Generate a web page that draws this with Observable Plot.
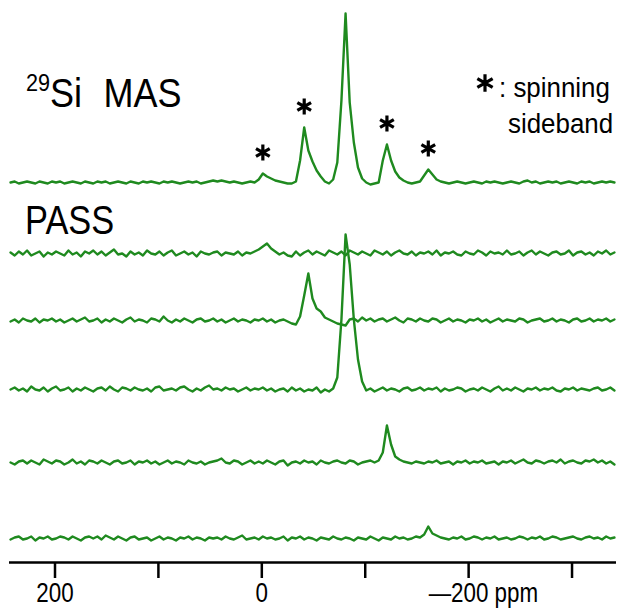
<!DOCTYPE html>
<html><head><meta charset="utf-8">
<script src="https://cdn.jsdelivr.net/npm/d3@7"></script>
<script src="https://cdn.jsdelivr.net/npm/@observablehq/plot@0.6"></script>
<style>
html,body{margin:0;padding:0;background:#fff;}
#wrap{position:relative;width:624px;height:608px;}
#wrap > svg{position:absolute;left:0;top:0;}
.lbl{font-family:"Liberation Sans",Arial,sans-serif;fill:#000;}
</style></head><body>
<div id="wrap"></div>
<script>
// chemical shift grid (ppm)
const ppm = [243,239,235,231,227,223,219,215,211,207,
203,199,195,191,187,183,179,175,171,167,
163,159,155,151,147,143,139,135,131,127,
123,119,115,111,107,103,99,95,91,87,
83,79,75,71,67,63,59,55,51,47,
43,39,35,31,27,23,19,15,11,7,
3,-1,-5,-9,-13,-17,-21,-25,-29,-33,
-37,-41,-45,-49,-53,-57,-61,-65,-69,-73,
-77,-81,-85,-89,-93,-97,-101,-105,-109,-113,
-117,-121,-125,-129,-133,-137,-141,-145,-149,-153,
-157,-161,-165,-169,-173,-177,-181,-185,-189,-193,
-197,-201,-205,-209,-213,-217,-221,-225,-229,-233,
-237,-241,-245,-249,-253,-257,-261,-265,-269,-273,
-277,-281,-285,-289,-293,-297,-301,-305,-309,-313,
-317,-321,-325,-329,-333,-337,-341];

// 29Si MAS spectrum intensity
const masSpectrum = [0,1,-1,0,1,0,-1,1,0,-1,
1,0,1,-1,0,1,0,-1,1,0,
-1,1,0,1,-1,0,1,0,-1,1,
0,-1,1,0,1,0,-1,1,0,1,
0,-1,0,1,0,1,-1,0,1,2,
1,2,1,0,1,0,-1,0,1,0,
3,9,6,4,2,1,0,-1,-1,1,
22,55,32,21,12,6,1,-1,3,20,
82,169,80,40,15,4,0,-2,-1,0,
22,38,22,11,5,2,0,-1,0,1,
7,13,8,3,1,0,-1,0,1,0,
-1,0,1,0,-1,1,0,1,0,-1,
0,1,0,-1,1,2,0,1,-1,0,
1,0,1,-1,0,1,0,-1,1,0,
1,-1,0,1,0,1,0];

// PASS sub-spectra intensities (sideband orders)
const pass1 = [1,-2,2,-1,3,-2,0,2,-3,1,
-1,2,0,-2,3,-1,1,-3,2,0,
3,-1,2,-2,1,4,-1,0,-3,2,
-1,1,-2,3,0,-1,2,-2,1,3,
-2,0,2,-1,1,-3,2,0,-1,1,
2,-2,1,0,-1,2,-2,1,0,2,
4,7,10,5,2,-1,1,-2,-3,2,
-2,1,3,-1,2,0,-2,3,1,-1,
2,-2,3,1,-1,2,0,-2,3,1,
-1,2,-2,1,3,0,-1,2,-2,1,
0,2,-1,3,-2,1,0,2,-1,-2,
2,0,-1,3,1,-2,2,0,1,-1,
3,-1,0,2,-2,1,3,-1,2,0,
-2,1,2,-1,0,3,-2,1,2,-1,
1,-2,2,0,3,-1,1];

const pass2 = [-1,1,-2,2,0,-1,2,-2,1,0,
2,-1,1,-2,0,2,-1,1,3,-1,
0,2,-2,1,-1,2,0,-2,1,3,
-1,1,0,-2,2,1,-1,4,0,-2,
1,-1,2,0,-2,1,2,-1,0,2,
-1,1,-2,0,2,-1,1,0,-2,1,
0,2,-1,1,-2,0,1,-1,-3,-4,
4,25,47,22,12,9,3,1,-1,-3,
-4,-5,1,2,-1,3,0,2,-1,1,
2,-1,1,3,0,-2,2,1,-1,2,
0,-1,2,1,-2,0,2,-1,1,0,
-2,1,0,2,-1,1,-2,0,2,-1,
1,0,-1,2,1,-2,0,1,2,-1,
0,2,-1,1,0,-2,1,2,-1,0,
2,-1,1,0,2,-1,1];

const pass3 = [0,2,-1,1,-2,3,0,-1,2,-2,
1,3,-1,0,2,-2,1,-1,2,0,
-2,1,2,-1,3,0,-2,2,1,-1,
2,0,-1,1,-2,2,3,-1,0,1,
-1,2,3,0,-2,1,-1,2,4,0,
1,-1,2,0,1,-2,0,2,-1,1,
0,2,-1,1,-2,0,1,-2,2,-1,
1,-2,0,-1,2,-3,0,-2,1,12,
70,155,125,70,30,8,-1,1,-2,0,
2,-1,1,0,-2,1,2,-1,0,2,
-1,1,0,2,-2,1,-1,0,2,1,
-2,0,1,-1,2,0,-2,1,3,-1,
1,-1,2,0,-2,1,0,2,-1,1,
0,2,-1,-2,1,0,2,-1,1,0,
-1,1,2,-1,0,2,-1];

const pass4 = [0,-2,1,2,-1,2,0,-2,3,1,
-1,2,1,-2,0,3,-1,1,-2,2,
1,-1,2,0,-2,1,2,-1,0,2,
-2,1,0,2,-1,1,-2,0,2,-1,
1,0,-2,2,0,-1,1,-2,0,1,
2,4,0,-1,2,1,-2,0,2,-1,
1,-1,2,0,-2,1,2,-3,0,1,
-1,2,0,1,-2,2,0,-1,1,2,
0,-1,2,1,-2,0,1,2,0,2,
10,37,18,6,3,1,0,-1,1,0,
-1,1,0,2,-1,0,1,-2,1,0,
2,-1,1,0,2,-1,0,1,-2,1,
0,2,-1,1,3,0,-1,2,1,-1,
1,2,0,3,-1,1,2,0,-1,2,
1,3,0,2,-1,1,-2];

const pass5 = [-1,1,2,-1,0,2,-2,1,0,2,
-1,0,2,1,-1,2,0,-2,1,2,
0,2,-1,3,1,-1,2,0,-2,1,
2,-1,0,1,-2,0,2,-1,1,0,
-2,1,0,2,-1,1,0,-2,1,0,
1,-1,2,0,-1,1,3,-1,0,1,
-1,2,0,1,-1,0,2,-2,1,0,
2,-1,1,0,-2,1,0,-1,2,0,
-1,1,0,-2,1,0,-1,2,0,-2,
1,0,-1,2,0,1,-1,0,2,1,
4,12,5,3,1,0,-1,1,0,2,
-1,0,2,1,-1,1,0,2,-1,0,
1,-1,0,2,1,-1,1,0,2,-1,
0,2,1,-1,0,1,2,0,-1,1,
2,0,1,-1,2,0,1];

// spinning sideband positions (ppm) marked with *
const sidebandPpm = [-1, -41, -121, -161];

// axis ticks
const tickValues = [200, 100, 0, -100, -200, -300];
const tickLabels = ["200", "", "0", "", "\u2014200 ppm", ""];

// ---- layout (not data) ----
const traceNames = ["MAS", "PASS 1", "PASS 2", "PASS 3", "PASS 4", "PASS 5"];
const traceValues = [masSpectrum, pass1, pass2, pass3, pass4, pass5];
const baseline = {"MAS": 380, "PASS 1": 309, "PASS 2": 242, "PASS 3": 173, "PASS 4": 100, "PASS 5": 24};
const FONT = '"Liberation Sans",Arial,sans-serif';
const GREEN = "#1f8a1f";

const rows = traceNames.flatMap((name, t) =>
  traceValues[t].map((v, i) => ({ppm: ppm[i], intensity: v, trace: name})));
const stars = sidebandPpm.map(p => ({ppm: p, intensity: masSpectrum[ppm.indexOf(p)]}));

const labelOf = d => tickLabels[tickValues.indexOf(d)];

const chart = Plot.plot({
  width: 624, height: 608,
  marginLeft: 9, marginRight: 8, marginTop: 0, marginBottom: 46,
  x: {domain: [244, -343]},
  y: {domain: [0, 562], axis: null},
  style: {fontFamily: FONT, background: "transparent", color: "#000", overflow: "visible"},
  marks: [
    Plot.ruleY([0], {stroke: "#000", strokeWidth: 2.5}),
    Plot.axisX({ticks: tickValues, tickSize: 16, strokeWidth: 2.5, tickFormat: () => "", label: null}),
    Plot.axisX({ticks: [200, 0], tickSize: 0, tickPadding: 20, fontSize: 28, tickFormat: labelOf, label: null}),
    Plot.axisX({ticks: [-200], tickSize: 0, tickPadding: 20, fontSize: 28, tickFormat: labelOf, textAnchor: "start", dx: -40, label: null}),
    Plot.line(rows, {x: "ppm", y: d => d.intensity + baseline[d.trace], z: "trace", stroke: GREEN, strokeWidth: 2.4}),
    Plot.dot(stars, {x: "ppm", y: d => d.intensity + baseline["MAS"], dy: -21, symbol: "asterisk", r: 7.5, stroke: "#000", strokeWidth: 3.2})
  ]
});

// condense tick label glyphs (narrow face look)
chart.querySelectorAll('g[aria-label="x-axis tick label"] text').forEach(t => {
  const tr = t.getAttribute("transform");
  if (tr) t.setAttribute("transform", tr + " scale(0.8,1)");
  else {
    const x = +(t.getAttribute("x") || 0);
    t.setAttribute("transform", `translate(${x},0) scale(0.8,1) translate(${-x},0)`);
  }
});

const wrap = document.getElementById("wrap");
wrap.appendChild(chart);

// annotation overlay
const ns = "http://www.w3.org/2000/svg";
const ov = document.createElementNS(ns, "svg");
ov.setAttribute("width", 624); ov.setAttribute("height", 608);
ov.innerHTML = `
  <g transform="translate(26,107) scale(0.9,1)"><text class="lbl" font-size="40"><tspan font-size="24" dy="-16">29</tspan><tspan dy="16">Si</tspan><tspan x="86">MAS</tspan></text></g>
  <g transform="translate(25,234) scale(0.86,1)"><text class="lbl" font-size="40">PASS</text></g>
  <path transform="translate(485,83)" d="${d3.symbol(d3.symbolAsterisk, Math.PI * 70)()}" stroke="#000" stroke-width="3.2" fill="none"/>
  <g transform="translate(499,97) scale(0.96,1)"><text class="lbl" font-size="27">: spinning</text></g>
  <g transform="translate(508,133) scale(0.96,1)"><text class="lbl" font-size="27">sideband</text></g>`;
wrap.appendChild(ov);
</script>
</body></html>
